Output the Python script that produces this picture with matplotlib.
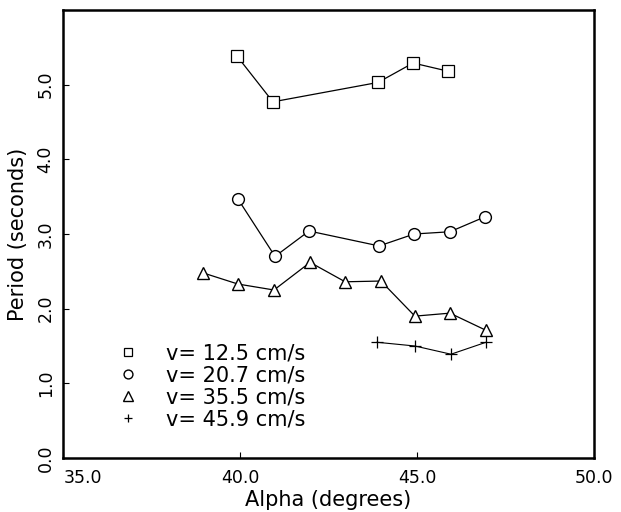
import matplotlib
matplotlib.use("Agg")
import matplotlib.pyplot as plt
import matplotlib.transforms as mtransforms

plt.rcParams['font.family'] = ['DejaVu Sans']

# data
alpha_125 = [39.92, 40.93, 43.90, 44.89, 45.88]
period_125 = [5.38, 4.77, 5.03, 5.29, 5.18]

alpha_207 = [39.94, 40.99, 41.95, 43.93, 44.92, 45.93, 46.92]
period_207 = [3.47, 2.70, 3.04, 2.84, 3.00, 3.03, 3.23]

alpha_355 = [38.95, 39.94, 40.96, 41.98, 42.97, 43.98, 44.94, 45.93, 46.95]
period_355 = [2.48, 2.33, 2.25, 2.62, 2.36, 2.37, 1.90, 1.94, 1.71]

alpha_459 = [43.87, 44.94, 45.96, 46.95]
period_459 = [1.55, 1.50, 1.39, 1.55]

labels = ["v= 12.5 cm/s", "v= 20.7 cm/s", "v= 35.5 cm/s", "v= 45.9 cm/s"]
xticks = [35.0, 40.0, 45.0, 50.0]
yticks = [0.0, 1.0, 2.0, 3.0, 4.0, 5.0]

fig = plt.figure(figsize=(6.21, 5.12), dpi=100)
ax = fig.add_axes([63/621, 1 - 458/512, 531/621, 448/512])

ax.plot(alpha_125, period_125, color='black', lw=0.9, marker='s', ms=8,
        mfc='white', mec='black', mew=0.9, label=labels[0])
ax.plot(alpha_207, period_207, color='black', lw=0.9, marker='o', ms=8.5,
        mfc='white', mec='black', mew=1.0, label=labels[1])
ax.plot(alpha_355, period_355, color='black', lw=0.9, marker='^', ms=9,
        mfc='white', mec='black', mew=1.0, label=labels[2])
ax.plot(alpha_459, period_459, color='black', lw=0.8, marker='+', ms=8,
        mec='black', mew=0.9, label=labels[3])

ax.set_xlim(35, 50)
ax.set_ylim(0, 6)
ax.set_xticks(xticks)
ax.set_xticklabels([f"{v:.1f}" for v in xticks])
ax.set_yticks(yticks)
ax.set_yticklabels([f"{v:.1f}" for v in yticks], rotation=90, va='center')

ax.tick_params(direction='in', length=4, width=0.8, labelsize=12.5)
ax.tick_params(axis='x', pad=8)
ax.tick_params(axis='y', pad=6)

# first x label sits clear of the left frame in the original
first = ax.get_xticklabels()[0]
first.set_transform(first.get_transform() +
                    mtransforms.ScaledTranslation(0.2, 0, fig.dpi_scale_trans))

for sp in ax.spines.values():
    sp.set_linewidth(1.8)

ax.set_xlabel("Alpha (degrees)", fontsize=15, labelpad=2)
ax.set_ylabel("Period (seconds)", fontsize=15, labelpad=6)

ax.legend(loc='upper left', bbox_to_anchor=(0.084, 0.279), frameon=False,
          fontsize=15, borderpad=0, handlelength=1.0, handletextpad=1.3,
          labelspacing=0.1, markerscale=0.75)
for h in ax.get_legend().get_lines():
    h.set_linestyle('none')

fig.savefig("out.png", dpi=100)
